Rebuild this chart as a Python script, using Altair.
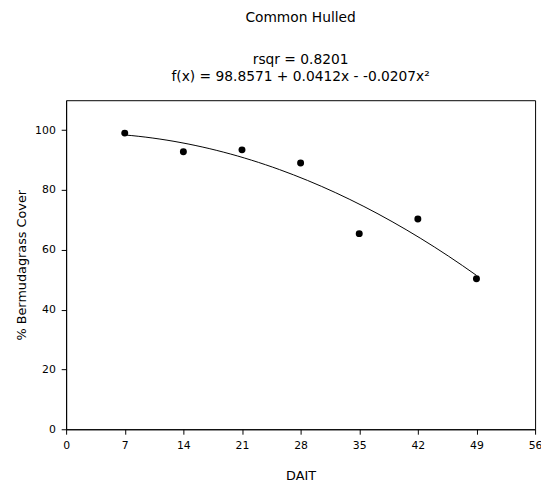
import altair as alt
import pandas as pd

# Data
dait = [7, 14, 21, 28, 35, 42, 49]
cover = [99.0, 92.8, 93.4, 89.0, 65.4, 70.3, 50.3]
x_ticks = [0, 7, 14, 21, 28, 35, 42, 49, 56]
y_ticks = [0, 20, 40, 60, 80, 100]
title_main = "Common Hulled"
title_rsqr = "rsqr = 0.8201"
title_eq = "f(x) = 98.8571 + 0.0412x - -0.0207x\u00b2"

FONT = "DejaVu Sans"
W, H = 476, 334

df = pd.DataFrame({"DAIT": dait, "Cover": cover})

xscale = alt.Scale(domain=[0, 56], nice=False, zero=False)
yscale = alt.Scale(domain=[0, 110], nice=False)

x_axis = alt.Axis(values=x_ticks, title="DAIT", titleX=W / 2, titleY=47,
                  titleBaseline="middle", format="d", labelFlush=False)
y_axis = alt.Axis(values=y_ticks, title="% Bermudagrass Cover",
                  titleX=-45, titleY=H / 2, titleBaseline="middle",
                  format="d", labelFlush=False)

base = alt.Chart(df)

points = base.mark_circle(size=50, color="black", opacity=1).encode(
    x=alt.X("DAIT:Q", scale=xscale, axis=x_axis),
    y=alt.Y("Cover:Q", scale=yscale, axis=y_axis),
)

curve = base.transform_regression(
    "DAIT", "Cover", method="poly", order=2, extent=[7, 49]
).mark_line(color="black", strokeWidth=1).encode(
    x=alt.X("DAIT:Q", scale=xscale),
    y=alt.Y("Cover:Q", scale=yscale),
)


def title_line(txt, ypos):
    return alt.Chart(pd.DataFrame({"t": [txt]})).mark_text(
        font=FONT, fontSize=14, color="black", align="center", baseline="alphabetic"
    ).encode(text="t:N", x=alt.value(W / 2), y=alt.value(ypos))


chart = alt.layer(
    curve,
    points,
    title_line(title_main, -79),
    title_line(title_rsqr, -37),
    title_line(title_eq, -20),
).properties(
    width=W,
    height=H,
    autosize="none",
    padding={"left": 59, "top": 90, "right": 6, "bottom": 55},
).configure_view(
    stroke="black", strokeWidth=1
).configure_axis(
    grid=False,
    domainColor="black",
    tickColor="black",
    tickSize=5,
    labelColor="black",
    titleColor="black",
    labelFont=FONT,
    titleFont=FONT,
    labelFontSize=11,
    titleFontSize=13,
    titleFontWeight="normal",
    labelPadding=6,
)

chart.save("out.html", embed_options={"renderer": "svg", "actions": False})
